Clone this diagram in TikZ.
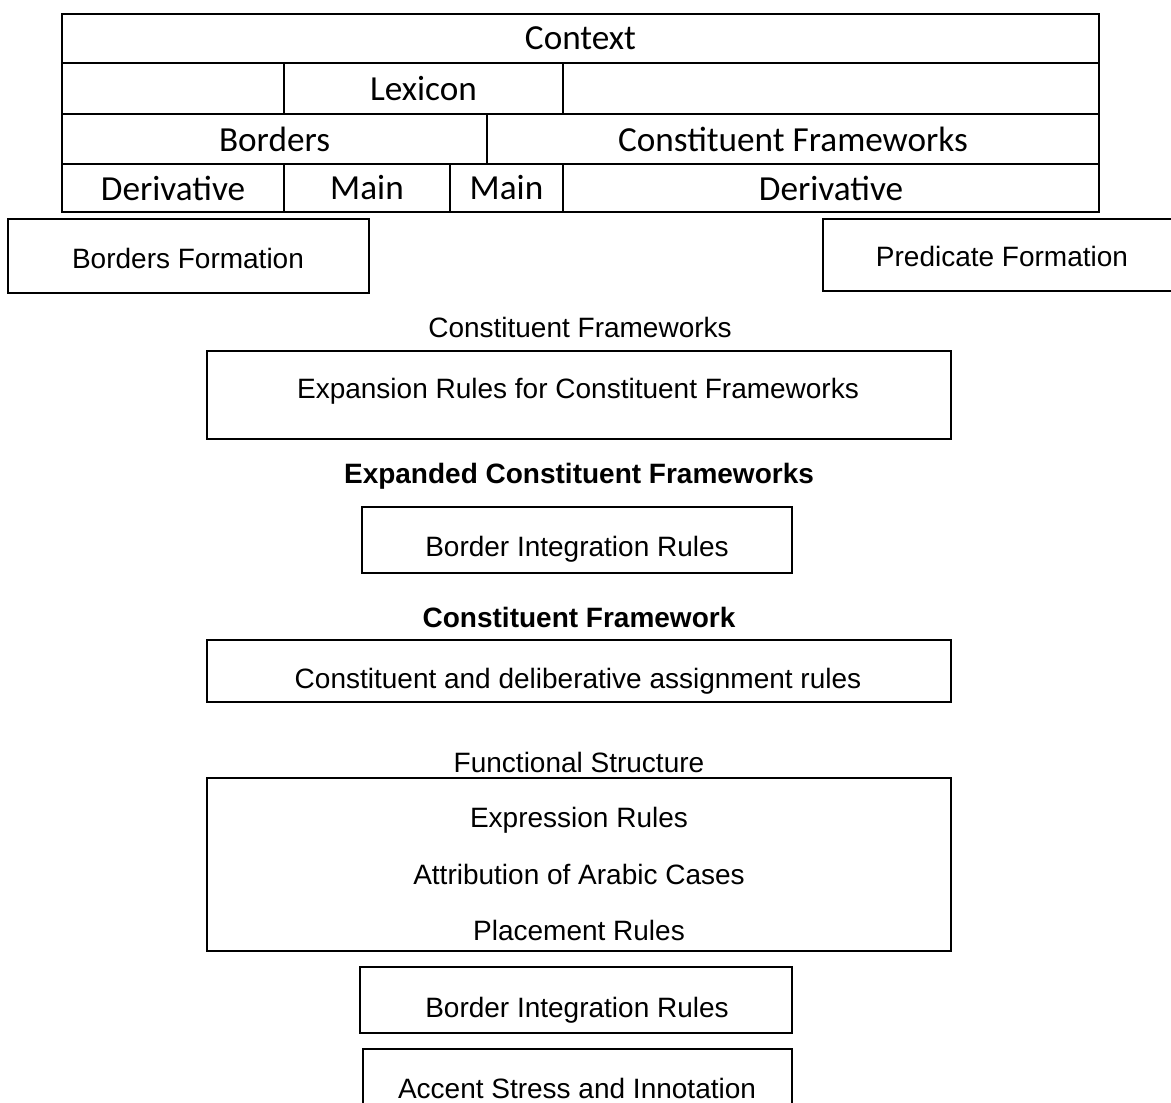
\documentclass[tikz,border=0pt]{standalone}
\usepackage{fontspec}
\setmainfont{Liberation Sans}
\newfontfamily\tablefont{Carlito}
\usepackage{tikz}
\usetikzlibrary{positioning}

\begin{document}
\begin{tikzpicture}[
      x=0.5pt, y=-0.5pt,
      cell/.style={draw, line width=0.8pt, inner sep=0pt, font=\tablefont\fontsize{17.6}{20}\selectfont},
      frame/.style={draw, line width=0.8pt, inner sep=0pt},
      txt/.style={inner sep=0pt, text height=10pt, text depth=3pt, font=\fontsize{14}{16}\selectfont},
      btxt/.style={txt, font=\fontsize{14}{16}\selectfont\bfseries}
    ]
      \clip (0,0) rectangle (1171,1102);

      % table of layers at the top
      \node[cell, minimum width=518.5pt, minimum height=24.5pt] (ctx) at (580.5,38.5) {Context};
      \node[cell, minimum width=111pt, minimum height=25.5pt] (lexl) at (173,88.5) {};
      \node[cell, minimum width=139.5pt, minimum height=25.5pt] (lex) at (423.5,88.5) {Lexicon};
      \node[cell, minimum width=268pt, minimum height=25.5pt] (lexr) at (831,88.5) {};
      \node[cell, minimum width=212.5pt, minimum height=25pt] (brd) at (274.5,139) {Borders};
      \node[cell, minimum width=306pt, minimum height=25pt] (cfw) at (793,139) {Constituent Frameworks};
      \node[cell, minimum width=111pt, minimum height=24pt] (derl) at (173,188) {Derivative};
      \node[cell, minimum width=83pt, minimum height=24pt] (mainl) at (367,188) {Main};
      \node[cell, minimum width=56.5pt, minimum height=24pt] (mainr) at (506.5,188) {Main};
      \node[cell, minimum width=268pt, minimum height=24pt] (derr) at (831,188) {Derivative};

      % formation boxes
      \node[frame, minimum width=180.5pt, minimum height=37pt] (bform) at (188.5,256) {};
      \node[txt] (bformt) at (188,261) {Borders Formation};
      \node[frame, minimum width=179pt, minimum height=36pt] (pform) at (1002,255) {};
      \node[txt] (pformt) at (1002,259) {Predicate Formation};

      % rules down the middle
      \node[txt] (cflab) at (580,330) {Constituent Frameworks};
      \node[frame, minimum width=372pt, minimum height=44pt] (exp) at (579,395) {};
      \node[txt] (expt) at (578,391) {Expansion Rules for Constituent Frameworks};
      \node[btxt] (ecflab) at (579,476) {Expanded Constituent Frameworks};
      \node[frame, minimum width=215pt, minimum height=33pt] (bint) at (577,540) {};
      \node[txt] (bintt) at (577,549) {Border Integration Rules};
      \node[btxt] (cfrlab) at (579,620) {Constituent Framework};
      \node[frame, minimum width=372pt, minimum height=31pt] (asg) at (579,671) {};
      \node[txt] (asgt) at (578,681) {Constituent and deliberative assignment rules};

      \node[txt] (fslab) at (579,765) {Functional Structure};
      \node[frame, minimum width=372pt, minimum height=86.5pt] (fs) at (579,864.5) {};
      \node[txt] (expr) at (579,820) {Expression Rules};
      \node[txt] (attr) at (579,877) {Attribution of Arabic Cases};
      \node[txt] (plac) at (579,933) {Placement Rules};

      \node[frame, minimum width=216pt, minimum height=33pt] (bintb) at (576,1000) {};
      \node[txt] (bintbt) at (577,1010) {Border Integration Rules};
      \node[frame, minimum width=214.5pt, minimum height=40.5pt] (acc) at (577.5,1089.5) {};
      \node[txt] (acct) at (577,1091) {Accent Stress and Innotation};
    \end{tikzpicture}
\end{document}
